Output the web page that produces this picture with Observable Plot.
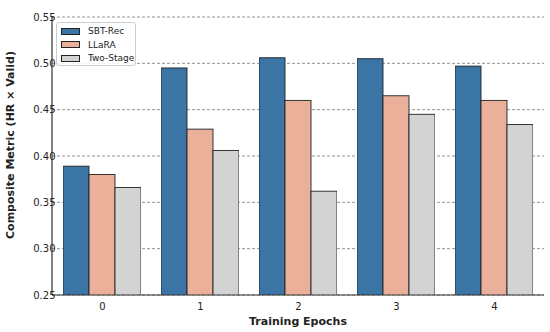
<!DOCTYPE html>
<html>
<head>
<meta charset="utf-8">
<script src="https://cdn.jsdelivr.net/npm/d3@7"></script>
<script src="https://cdn.jsdelivr.net/npm/@observablehq/plot@0.6"></script>
<style>
  html, body { margin: 0; padding: 0; background: #fff; }
  #wrap { position: relative; width: 550px; height: 332px; font-family: "DejaVu Sans", sans-serif; }
  #legend { position: absolute; left: 56px; top: 22px; width: 80px; height: 44px; box-sizing: border-box;
    border: 1px solid #cccccc; border-radius: 3px; background: rgba(255,255,255,0.85); font-size: 9px; color: #222; }
  .item { position: absolute; left: 4px; height: 12px; display: flex; align-items: center; }
  .sw { width: 19px; height: 7px; border: 0.8px solid #222; box-sizing: border-box; margin-right: 8px; }
</style>
</head>
<body>
<div id="wrap"></div>
<script>
const epochs = [0, 1, 2, 3, 4];
const seriesNames = ["SBT-Rec", "LLaRA", "Two-Stage"];
const sbtRec = [0.389, 0.495, 0.506, 0.505, 0.497];
const llara = [0.380, 0.429, 0.460, 0.465, 0.460];
const twoStage = [0.366, 0.406, 0.362, 0.445, 0.434];
const colors = ["#3a75a5", "#eab09a", "#d3d3d3"];
const yTicks = [0.25, 0.30, 0.35, 0.40, 0.45, 0.50, 0.55];

const values = [sbtRec, llara, twoStage];
const data = [];
epochs.forEach((e, i) => seriesNames.forEach((s, j) => data.push({epoch: e, series: s, value: values[j][i]})));

const W = 550, H = 332, ML = 52, MR = 6, MT = 17, MB = 37;
const plot = Plot.plot({
  width: W,
  height: H,
  marginLeft: ML,
  marginRight: MR,
  marginTop: MT,
  marginBottom: MB,
  style: {fontFamily: "DejaVu Sans, sans-serif", fontSize: "10px", color: "#222", background: "#fff"},
  fx: {domain: epochs, paddingInner: 0.2, paddingOuter: 0.1, label: null},
  x: {domain: seriesNames, padding: 0, axis: null},
  y: {domain: [0.25, 0.55], ticks: yTicks, label: null},
  color: {domain: seriesNames, range: colors},
  marks: [
    Plot.barY(data, {fx: "epoch", x: "series", y: "value", fill: "series", stroke: "#222", strokeWidth: 0.9, clip: true}),
    Plot.axisY({ticks: yTicks, tickFormat: d3.format(".2f"), tickSize: 0, tickPadding: 8, fontSize: 10, label: null}),
    Plot.axisFx({anchor: "bottom", tickSize: 0, tickPadding: 7, fontSize: 10, label: null})
  ]
});

const wrap = document.getElementById("wrap");
wrap.appendChild(plot);

const svg = d3.select(plot);
const yScale = plot.scale("y");
// grid lines behind everything, spanning the full frame width
const grid = svg.insert("g", ":first-child").attr("stroke", "#777").attr("stroke-width", 0.8).attr("stroke-dasharray", "3,2");
yTicks.forEach(v => {
  const yy = yScale.apply(v);
  grid.append("line").attr("x1", ML).attr("x2", W - MR).attr("y1", yy).attr("y2", yy);
});
// spines
const y0 = yScale.apply(0.25), y1 = yScale.apply(0.55);
svg.append("line").attr("x1", ML).attr("x2", ML).attr("y1", y0).attr("y2", y1).attr("stroke", "#333").attr("stroke-width", 1.2);
svg.append("line").attr("x1", ML).attr("x2", W - MR).attr("y1", y0).attr("y2", y0).attr("stroke", "#333").attr("stroke-width", 1.2);

svg.append("text").attr("x", 298).attr("y", 325).attr("text-anchor", "middle")
  .attr("font-weight", "bold").attr("font-size", 11).attr("fill", "#222").text("Training Epochs");
svg.append("text").attr("transform", "translate(14,145) rotate(-90)").attr("text-anchor", "middle")
  .attr("font-weight", "bold").attr("font-size", 11).attr("fill", "#222").text("Composite Metric (HR × Valid)");

const legend = document.createElement("div");
legend.id = "legend";
seriesNames.forEach((s, j) => {
  const it = document.createElement("div");
  it.className = "item";
  it.style.top = (2 + j * 13.6) + "px";
  const sw = document.createElement("div");
  sw.className = "sw";
  sw.style.background = colors[j];
  it.appendChild(sw);
  it.appendChild(document.createTextNode(s));
  legend.appendChild(it);
});
wrap.appendChild(legend);
</script>
</body>
</html>
